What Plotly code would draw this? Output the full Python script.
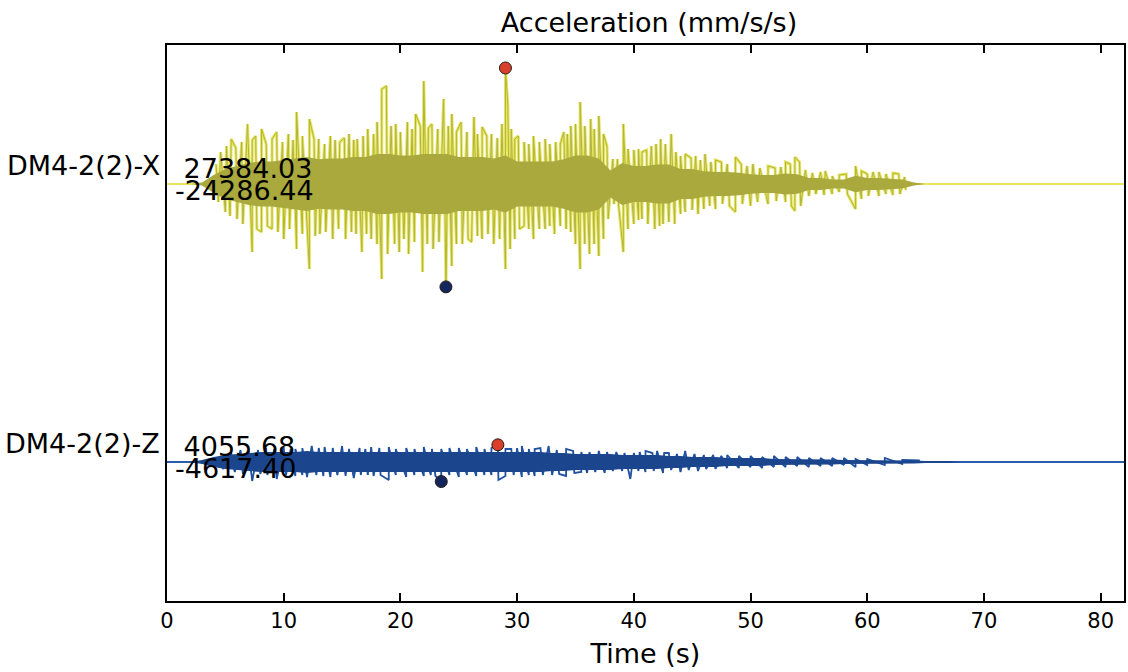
import plotly.graph_objects as go

# ---------------- data (mm/s/s) ----------------
core_t = list(range(83))  # seconds

# half-width of the dense (darker) core of each trace, one value per second
x_core = [0, 0, 0, 350, 2120, 3540, 4250, 4960, 5310, 5310,
          5660, 6020, 6370, 5840, 6020, 6020, 6370, 6370, 7080, 7080,
          6730, 6730, 7080, 7080, 7080, 6370, 6370, 6370, 6020, 6730,
          5310, 5310, 5310, 5310, 5840, 6730, 6730, 6020, 3190, 4960,
          4250, 4250, 4600, 4600, 3540, 3540, 3010, 2830, 2830, 2660,
          2300, 2120, 2120, 2480, 2300, 1420, 1420, 1060, 1060, 1950,
          1420, 1420, 1240, 1060, 350] + [0] * 18

z_core = [0, 0, 0, 470, 1180, 1650, 1890, 2120, 2360, 2360, 2360, 2360, 2600] + [2360] * 20 + \
         [2120, 2120, 1890, 1890, 1890, 1890, 1650, 1650, 1650, 1650, 1420, 1420, 1180, 1180,
          1180, 940, 940, 940, 940, 710, 710, 710, 710, 590, 590, 470, 470, 470, 470, 470, 350,
          350, 240, 240, 240] + [0] * 15

# individual peaks (time s, acceleration mm/s/s)
x_peaks = [
    (4.2, 4720), (4.6, 7550), (5.1, 8970), (5.5, 10620), (5.9, 8500), (6.4, 9910), (6.9, 14160),
    (7.3, 10380), (7.6, 11330), (8.1, 12980), (8.5, 9440), (9.0, 10620), (9.4, 12270),
    (9.9, 9910), (10.4, 11800), (10.8, 10380), (11.1, 16990), (11.6, 11330), (12.2, 15340),
    (12.6, 10620), (13.0, 10620), (13.5, 9440), (14.0, 11330), (14.4, 10380), (14.8, 9910),
    (15.2, 10860), (15.6, 11800), (16.0, 10380), (16.3, 10620), (16.8, 11330), (17.2, 12980),
    (17.7, 11800), (18.0, 14630), (18.4, 22420), (18.8, 23130), (19.2, 13690), (19.6, 14160),
    (20.0, 12270), (20.6, 14630), (21.0, 12980), (21.3, 16520), (21.7, 13690), (22.0, 24310),
    (22.4, 13220), (22.7, 14160), (23.2, 12980), (23.7, 20060), (24.1, 13690), (24.4, 16520),
    (24.8, 12270), (25.2, 14630), (25.7, 12270), (26.3, 15810), (26.6, 11800), (27.0, 13450),
    (27.4, 11330), (27.8, 11800), (28.3, 10860), (28.7, 14160), (29.0, 27384.03), (29.2, 18880),
    (29.5, 12980), (29.8, 10620), (30.1, 11330), (30.6, 9910), (31.0, 9440), (31.4, 11330),
    (31.9, 9910), (32.4, 10620), (32.8, 9440), (33.3, 9910), (33.7, 9440), (34.0, 12270),
    (34.3, 11800), (34.6, 13690), (35.0, 14160), (35.4, 19350), (35.8, 13690), (36.3, 15340),
    (36.6, 12980), (37.0, 16050), (37.4, 11800), (37.7, 8970), (38.2, 5900), (38.6, 5900),
    (39.1, 14160), (39.5, 8260), (40.0, 8020), (40.4, 8260), (40.7, 7550), (41.1, 8020),
    (41.5, 8970), (41.9, 9440), (42.3, 10620), (42.7, 9440), (43.2, 11800), (43.6, 7550),
    (44.0, 6610), (44.4, 7080), (44.9, 6140), (45.3, 6610), (45.7, 5660), (46.1, 7080),
    (46.6, 5190), (47.0, 5660), (47.5, 5190), (48.0, 4720), (48.7, 6370), (49.2, 4720),
    (49.7, 4250), (50.2, 4720), (50.8, 3780), (51.5, 4250), (52.1, 3780), (52.6, 4010),
    (53.0, 5190), (53.4, 4720), (53.8, 6370), (54.2, 5190), (54.7, 3300), (55.3, 2600),
    (56.0, 2830), (56.4, 3070), (57.0, 1890), (57.6, 2120), (58.2, 2360), (59.0, 4250),
    (59.5, 3070), (60.0, 2360), (60.5, 2830), (61.0, 2830), (61.6, 2360), (62.2, 2600),
    (62.7, 2360), (63.2, 1650),
    (4.4, -4250), (5.0, -6610), (5.4, -7550), (6.0, -8260), (6.5, -9440), (7.3, -16050),
    (7.7, -10620), (8.1, -11330), (8.6, -9910), (9.0, -10620), (9.5, -11330), (10.0, -12980),
    (10.5, -10620), (11.1, -15340), (11.6, -11800), (12.2, -20060), (12.7, -12270),
    (13.1, -11800), (13.6, -11330), (14.2, -12980), (14.7, -10620), (15.3, -12980),
    (15.8, -11330), (16.2, -11800), (16.7, -16050), (17.1, -11800), (17.5, -12980),
    (18.0, -14160), (18.4, -22420), (18.9, -16520), (19.5, -14160), (19.9, -16050),
    (20.3, -12980), (20.7, -16520), (21.2, -13690), (21.9, -20770), (22.3, -14160),
    (22.8, -15340), (23.3, -13690), (23.9, -24286.44), (24.4, -19350), (24.8, -14160),
    (25.3, -14160), (25.8, -12980), (26.1, -13690), (26.6, -12270), (27.0, -12980),
    (27.5, -11800), (28.0, -14160), (28.5, -12980), (29.0, -20060), (29.4, -15340),
    (29.8, -12980), (30.2, -10620), (30.6, -9910), (31.0, -10620), (31.4, -12980),
    (31.9, -10620), (32.4, -10620), (32.8, -9910), (33.2, -11800), (33.7, -9910),
    (34.2, -10620), (34.6, -11330), (35.0, -14160), (35.4, -20060), (35.8, -14160),
    (36.2, -16520), (36.6, -14160), (37.0, -16990), (37.4, -12980), (37.8, -8260),
    (38.3, -4720), (38.7, -5190), (39.1, -16050), (39.5, -10620), (40.0, -9440), (40.4, -8500),
    (40.7, -8260), (41.2, -9440), (41.8, -10620), (42.2, -9910), (42.5, -9440), (43.0, -8970),
    (43.5, -9440), (44.0, -7080), (44.4, -6610), (45.0, -6140), (45.5, -7080), (46.0, -5900),
    (46.5, -5190), (47.0, -5900), (47.6, -4720), (48.2, -5190), (48.7, -6610), (49.3, -4720),
    (50.0, -5190), (50.6, -4250), (51.5, -4720), (52.2, -4010), (53.0, -4250), (53.5, -5190),
    (53.8, -6370), (54.3, -5190), (55.0, -2830), (55.6, -2360), (56.3, -2600), (57.0, -2360),
    (57.6, -1890), (58.3, -2360), (59.0, -5900), (59.5, -3540), (60.1, -2830), (61.0, -2830),
    (61.6, -2360), (62.2, -2600), (62.8, -2360), (63.3, -1420),
]

z_peaks = [
    (4.5, 1420), (5.5, 2120), (6.3, 2830), (7.0, 2600), (7.8, 2830), (8.5, 3300), (9.2, 3070),
    (10.0, 3540), (10.6, 3070), (11.0, 3070), (11.6, 3300), (12.4, 3780), (13.0, 3300),
    (13.5, 3540), (14.2, 3300), (15.0, 3780), (15.6, 3070), (16.5, 3300), (17.0, 3070),
    (17.5, 3540), (18.2, 3300), (19.0, 3540), (19.6, 3070), (20.5, 3300), (21.2, 3070),
    (22.0, 3540), (22.7, 3070), (23.5, 3070), (24.2, 3300), (25.0, 3300), (25.7, 3070),
    (26.5, 3540), (27.2, 3070), (27.8, 3300), (28.35, 4055.68), (29.0, 3070), (29.5, 3070),
    (30.0, 3300), (30.4, 3780), (31.0, 3070), (31.5, 3070), (32.0, 3300), (32.7, 3780),
    (33.4, 2830), (34.2, 3070), (34.8, 2600), (35.5, 2360), (36.2, 2360), (37.0, 2600),
    (37.7, 2360), (38.5, 2360), (39.2, 2120), (40.0, 2120), (40.5, 2360), (41.0, 2600),
    (41.6, 2120), (42.0, 2600), (42.6, 2120), (43.0, 2120), (43.7, 1890), (44.4, 2600),
    (45.2, 1890), (46.0, 1650), (46.8, 1650), (47.5, 1420), (48.0, 1650), (49.0, 1420),
    (50.0, 1420), (51.0, 1180), (52.0, 1420), (53.0, 1180), (54.0, 1180), (55.0, 940),
    (56.0, 940), (57.0, 940), (58.0, 940), (59.0, 710), (60.0, 710), (61.5, 940), (63.0, 470),
    (64.5, 350),
    (4.8, -1650), (5.8, -2360), (6.5, -2830), (7.3, -4480), (8.0, -2830), (8.6, -3070),
    (9.4, -4010), (10.2, -3070), (11.0, -3300), (11.6, -3070), (12.0, -3540), (12.8, -3070),
    (13.4, -3300), (14.0, -3540), (14.6, -3070), (15.3, -3300), (16.0, -3780), (16.6, -3070),
    (17.2, -3070), (17.7, -3300), (18.3, -3070), (19.0, -4250), (19.6, -3070), (20.5, -3540),
    (21.2, -3070), (22.0, -3300), (22.6, -3070), (23.0, -3300), (23.5, -4617.40), (24.2, -3070),
    (25.0, -3540), (25.7, -3070), (26.5, -3300), (27.2, -3070), (27.8, -3070), (28.4, -4250),
    (29.0, -3300), (29.7, -3070), (30.4, -3540), (31.0, -3070), (31.5, -3300), (32.2, -3070),
    (33.0, -3070), (33.6, -2830), (34.2, -3300), (34.9, -2600), (35.5, -2360), (36.0, -2600),
    (36.7, -2360), (37.5, -2600), (38.2, -2120), (39.0, -2120), (39.7, -4010), (40.4, -2120),
    (41.0, -2360), (41.7, -2120), (42.5, -2600), (43.2, -1890), (44.0, -2360), (44.7, -1890),
    (45.5, -2120), (46.2, -1650), (47.0, -1650), (48.0, -1420), (49.0, -1420), (50.0, -1180),
    (51.0, -1420), (52.0, -1180), (53.0, -1180), (54.0, -940), (55.0, -1180), (56.0, -940),
    (57.0, -940), (58.0, -710), (59.0, -1180), (60.0, -710), (61.5, -710), (63.0, -470),
]

x_max = (29.0, 27384.03)
x_min = (23.9, -24286.44)
z_max = (28.35, 4055.68)
z_min = (23.5, -4617.40)

trace_names = ["DM4-2(2)-X", "DM4-2(2)-Z"]
x_ticks = [0, 10, 20, 30, 40, 50, 60, 70, 80]

# ---------------- drawing ----------------
FONT = "DejaVu Sans"
SCALE = 1.0 / 65620.0  # plot units per mm/s/s (same for both traces)
OFF_X, OFF_Z = 1.0, 0.0

fig = go.Figure()


def add_trace(core, peaks, off, rim_col, inner_col, core_col, rim_w, inner_w):
    pk = sorted(peaks)
    xs = [t for t, v in pk]
    ys = [off + v * SCALE for t, v in pk]
    # flat (zero-amplitude) part of the record
    fig.add_trace(go.Scatter(x=core_t, y=[off] * len(core_t), mode="lines",
                             line=dict(color=rim_col, width=2),
                             hoverinfo="skip", showlegend=False))
    # waveform: peaks joined in time order (bright rim + darker centre)
    fig.add_trace(go.Scatter(x=xs, y=ys, mode="lines", line=dict(color=rim_col, width=rim_w),
                             hoverinfo="skip", showlegend=False))
    fig.add_trace(go.Scatter(x=xs, y=ys, mode="lines", line=dict(color=inner_col, width=inner_w),
                             hoverinfo="skip", showlegend=False))
    # dense core
    fig.add_trace(go.Scatter(x=core_t, y=[off + c * SCALE for c in core], mode="lines",
                             line=dict(color=core_col, width=0),
                             hoverinfo="skip", showlegend=False))
    fig.add_trace(go.Scatter(x=core_t, y=[off - c * SCALE for c in core], mode="lines",
                             fill="tonexty", fillcolor=core_col,
                             line=dict(color=core_col, width=0),
                             hoverinfo="skip", showlegend=False))


add_trace(x_core, x_peaks, OFF_X, "#e6e65e", "#b4b444", "#a9a93d", 3.0, 1.0)
add_trace(z_core, z_peaks, OFF_Z, "#2a5cae", "#1f4b98", "#1b458d", 1.8, 0.8)

for (t, v), off, col in [(x_max, OFF_X, "#d8402c"), (x_min, OFF_X, "#14265e"),
                         (z_max, OFF_Z, "#d8402c"), (z_min, OFF_Z, "#14265e")]:
    fig.add_trace(go.Scatter(x=[t], y=[off + v * SCALE], mode="markers",
                             marker=dict(size=12, color=col, line=dict(color="#2a1a14", width=1)),
                             hoverinfo="skip", showlegend=False))

annotations = []
for name, off, mx, mn in [(trace_names[0], OFF_X, x_max, x_min),
                          (trace_names[1], OFF_Z, z_max, z_min)]:
    annotations.append(dict(x=0, y=off + 0.066, xref="paper", yref="y", text=name,
                            showarrow=False, xanchor="right", yanchor="middle", xshift=-5,
                            font=dict(family=FONT, size=27, color="black")))
    annotations.append(dict(x=0.5, y=off + 0.056, xref="x", yref="y",
                            text="\u00a0%.2f" % mx[1], showarrow=False,
                            xanchor="left", yanchor="middle",
                            font=dict(family=FONT, size=27, color="black")))
    annotations.append(dict(x=0.5, y=off - 0.024, xref="x", yref="y",
                            text="%.2f" % mn[1], showarrow=False,
                            xanchor="left", yanchor="middle",
                            font=dict(family=FONT, size=27, color="black")))

fig.update_layout(
    width=1128, height=672, autosize=False,
    margin=dict(l=167, r=2, t=45, b=71),
    paper_bgcolor="white", plot_bgcolor="white",
    font=dict(family=FONT, color="black"),
    title=dict(text="Acceleration (mm/s/s)", x=649 / 1128, xref="container", xanchor="center",
               y=1 - 23 / 672, yref="container", yanchor="middle",
               font=dict(family=FONT, size=27, color="black")),
    annotations=annotations,
)
fig.update_xaxes(range=[0, 82], tickvals=x_ticks, ticktext=[str(v) for v in x_ticks],
                 ticks="inside", ticklen=8, tickwidth=1.5, tickcolor="black",
                 showline=True, linecolor="black", linewidth=2, mirror="ticks",
                 showgrid=False, zeroline=False, ticklabelstandoff=0,
                 tickfont=dict(family=FONT, size=21, color="black"),
                 title=dict(text="Time (s)", standoff=12,
                            font=dict(family=FONT, size=27, color="black")))
fig.update_yaxes(range=[-0.5, 1.5], showticklabels=False, ticks="",
                 showline=True, linecolor="black", linewidth=2, mirror=True,
                 showgrid=False, zeroline=False)

post = ("document.body.style.margin='0';document.body.style.padding='0';"
        "var gd=document.getElementById('{plot_id}');"
        "Plotly.relayout(gd,{width:1128,height:672});")
fig.write_html("out.html", config={"responsive": False, "displayModeBar": False},
               post_script=post)
